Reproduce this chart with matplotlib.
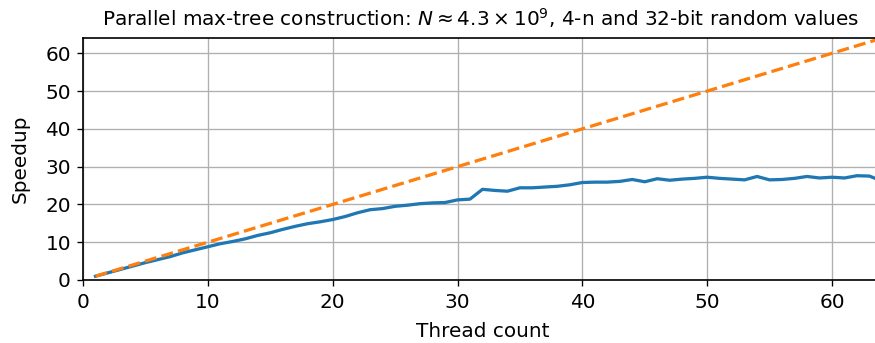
import numpy as np
import matplotlib
matplotlib.use("Agg")
import matplotlib.pyplot as plt

threads = np.arange(1, 65)
speedup = [1.0, 1.9, 2.8, 3.7, 4.6, 5.4, 6.2, 7.2, 8.0, 8.8,
           9.6, 10.2, 10.9, 11.8, 12.5, 13.4, 14.2, 14.9, 15.4, 16.0,
           16.8, 17.8, 18.6, 18.9, 19.5, 19.8, 20.2, 20.4, 20.5, 21.2,
           21.4, 24.0, 23.7, 23.5, 24.4, 24.4, 24.6, 24.8, 25.2, 25.8,
           25.9, 25.9, 26.1, 26.6, 26.0, 26.8, 26.4, 26.7, 26.9, 27.2,
           26.9, 26.7, 26.5, 27.4, 26.5, 26.6, 26.9, 27.4, 27.0, 27.2,
           27.0, 27.6, 27.5, 26.2]
ideal = threads

# original looks like it was rendered at ~1.2x scale
s = 1.2
plt.rcParams.update({
    'font.size': 12 * s,
    'axes.linewidth': 1.0 * s,
    'xtick.major.size': 3.5 * s,
    'ytick.major.size': 3.5 * s,
    'xtick.major.width': 0.8 * s,
    'ytick.major.width': 0.8 * s,
    'xtick.major.pad': 5.5,
    'ytick.major.pad': 4.5,
    'grid.linewidth': 0.8 * s,
})
fig = plt.figure(figsize=(8.75, 3.43), dpi=100)
ax = fig.add_axes([0.0949, 0.1837, 0.913, 0.705])

ax.plot(threads, speedup, color='tab:blue', lw=1.5 * s * 1.3)
ax.plot(threads, ideal, color='tab:orange', lw=1.5 * s * 1.3, ls='--',
        dashes=(3.7, 1.6))
ax.set_xlim(0, 64)
ax.set_ylim(0, 64)
ax.set_xticks([0, 10, 20, 30, 40, 50, 60])
ax.set_yticks([0, 10, 20, 30, 40, 50, 60])
ax.grid(True, color='#b0b0b0')
ax.set_xlabel('Thread count', labelpad=7)
ax.set_ylabel('Speedup', labelpad=11)
fig.text(0.549, 0.925,
         r'Parallel max-tree construction: $N \approx 4.3 \times 10^9$, 4-n and 32-bit random values',
         ha='center', va='baseline', fontsize=12 * s)

fig.savefig('out.png', dpi=100)
